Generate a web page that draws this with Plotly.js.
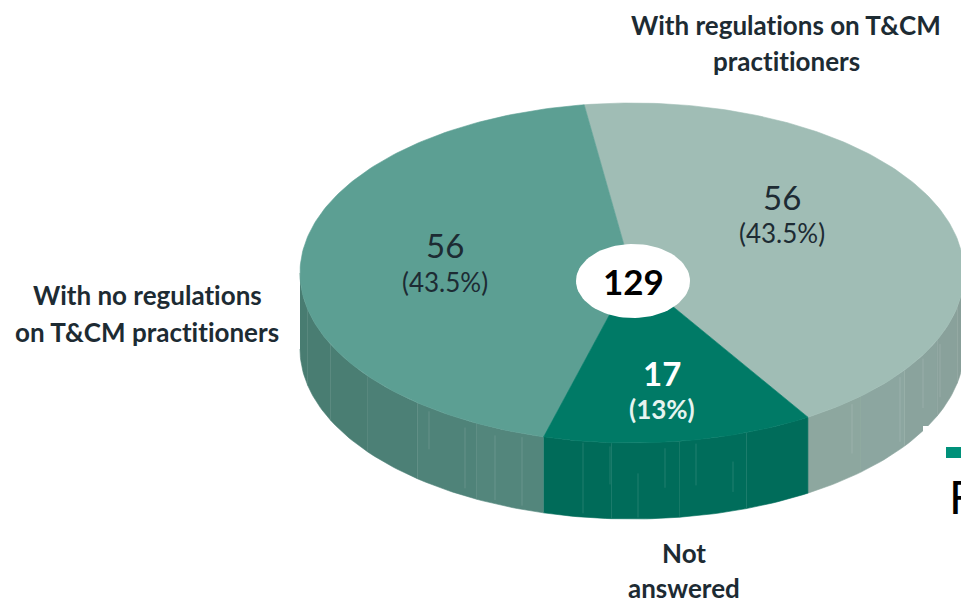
<!DOCTYPE html>
<html><head><meta charset="utf-8">
<script src="https://cdn.plot.ly/plotly-3.0.1.min.js"></script>
<style>html,body{margin:0;padding:0;background:#fff;overflow:hidden}
svg text{font-variant-ligatures:none;font-feature-settings:"liga" 0}</style></head>
<body><div id="chart" style="width:961px;height:601px"></div>
<script>
// Data
var sliceNames = ['With regulations on T&CM practitioners', 'With no regulations on T&CM practitioners', 'Not answered'];
var sliceValues = [56, 56, 17];
var slicePercents = ['(43.5%)', '(43.5%)', '(13%)'];
var totalLabel = '129';
// Styles
var topColors = ['#a0bdb5', '#5c9f93', '#007a66'];
var sideShades = [
  ['#8da79f', '#8ca6a0', '#8aa39d', '#89a19b', '#889f99'],
  ['#487c71', '#497d72', '#4a7e73', '#4c8076', '#4f8379', '#53867c'],
  ['#006b59', '#006c5a', '#006d5b', '#006c5a']
];
var streaks = [
  [429,.05,.55],[465,.1,.9],[495,.1,.95],[522,.05,.95],
  [583,.02,.95],[610,.05,.55],[638,.4,.98],[665,.08,.6],[696,.05,.6],[733,.35,.75],
  [852,.05,.7],[900,.05,.9],[923,.05,.7],[940,.1,.8]
];
var W = 961, H = 601;
var cx = 632, cy = 273, rx = 332, ry = 170, depth = 76;
var startDeg = 32;
var hole = {x: 633, y: 281, rx: 57, ry: 37};

function pt(d, dy) { var r = d * Math.PI / 180; return [cx + rx * Math.sin(r), cy + ry * Math.cos(r) + (dy || 0)]; }
function arc(a, b, dy) { var out = [], n = Math.max(2, Math.ceil(Math.abs(b - a) / 1)); for (var i = 0; i <= n; i++) out.push(pt(a + (b - a) * i / n, dy)); return out; }
function poly(points, color) {
  return {type: 'scatter', mode: 'lines', x: points.map(function (p) { return p[0]; }), y: points.map(function (p) { return p[1]; }),
    fill: 'toself', fillcolor: color, line: {width: 0.6, color: color}, hoverinfo: 'skip', showlegend: false};
}
var total = sliceValues.reduce(function (a, b) { return a + b; }, 0);
var tr = [], tops = [], a = startDeg;
sliceValues.forEach(function (v, i) {
  var b = a + v / total * 360;
  var ranges = [[-90, 90], [270, 450]];
  ranges.forEach(function (rg) {
    var s = Math.max(a, rg[0]), e = Math.min(b, rg[1]);
    if (e > s) {
      var shades = sideShades[i];
      shades.forEach(function (c, k) {
        var s1 = s + (e - s) * k / shades.length, e1 = s + (e - s) * (k + 1) / shades.length;
        tr.push(poly(arc(s1, e1, 0).concat(arc(e1, s1, depth)), c));
      });
    }
  });
  tops.push(poly([[cx, cy]].concat(arc(a, b, 0)).concat([[cx, cy]]), topColors[i]));
  a = b;
});
streaks.forEach(function (s) {
  var t = Math.asin((s[0] - cx) / rx), yTop = cy + ry * Math.cos(t);
  tr.push({type: 'scatter', mode: 'lines', x: [s[0], s[0]], y: [yTop + s[1] * depth, yTop + s[2] * depth],
    line: {width: 1, color: 'rgba(255,255,255,0.13)'}, hoverinfo: 'skip', showlegend: false});
});
tr = tr.concat(tops);
var hx = [], hy = [];
for (var d = 0; d <= 360; d += 4) { hx.push(hole.x + hole.rx * Math.cos(d * Math.PI / 180)); hy.push(hole.y + hole.ry * Math.sin(d * Math.PI / 180)); }
tr.push({type: 'scatter', mode: 'lines', x: hx, y: hy, fill: 'toself', fillcolor: '#ffffff', line: {width: 0, color: '#fff'}, hoverinfo: 'skip', showlegend: false});

var F = 'Lato,"Open Sans",sans-serif';
function note(x, y, text, size, color, bold, anchor) {
  return {xref: 'x', yref: 'y', x: x, y: y, text: bold ? '<b>' + text + '</b>' : text, showarrow: false, align: 'center',
    xanchor: anchor || 'center', yanchor: 'middle', font: {family: F, size: size, color: color}};
}
var ink = '#1d2b33';
var annotations = [
  note(786, 25, 'With regulations on T&CM', 26, ink, true),
  note(786, 61, 'practitioners', 26, ink, true),
  note(147, 295, 'With no regulations', 26, ink, true),
  note(147, 332, 'on T&CM practitioners', 26, ink, true),
  note(684, 553, 'Not', 26, ink, true),
  note(684, 588, 'answered', 26, ink, true),
  note(782, 197, String(sliceValues[0]), 33, ink, false),
  note(782, 233, slicePercents[0], 26, ink, false),
  note(445, 245, String(sliceValues[1]), 33, ink, false),
  note(445, 282, slicePercents[1], 26, ink, false),
  note(662, 373, String(sliceValues[2]), 33, '#ffffff', true),
  note(662, 409, slicePercents[2], 26, '#e6f4f0', true),
  note(633, 281, totalLabel, 35, '#000000', true),
  note(947, 496, 'F', 46, '#000000', false, 'left')
];
var layout = {
  width: W, height: H, margin: {l: 0, r: 0, t: 0, b: 0}, paper_bgcolor: '#fff', plot_bgcolor: '#fff', showlegend: false,
  xaxis: {range: [0, W], visible: false, fixedrange: true},
  yaxis: {range: [H, 0], visible: false, fixedrange: true},
  annotations: annotations,
  shapes: [
    {type: 'rect', xref: 'x', yref: 'y', x0: 923, x1: 961, y0: 426, y1: 601, fillcolor: '#fff', line: {width: 0}, layer: 'above'},
    {type: 'rect', xref: 'x', yref: 'y', x0: 946, x1: 961, y0: 447, y1: 458, fillcolor: '#00917a', line: {width: 0}, layer: 'above'}
  ]
};
Plotly.newPlot('chart', tr, layout, {displayModeBar: false, staticPlot: true});
</script></body></html>
